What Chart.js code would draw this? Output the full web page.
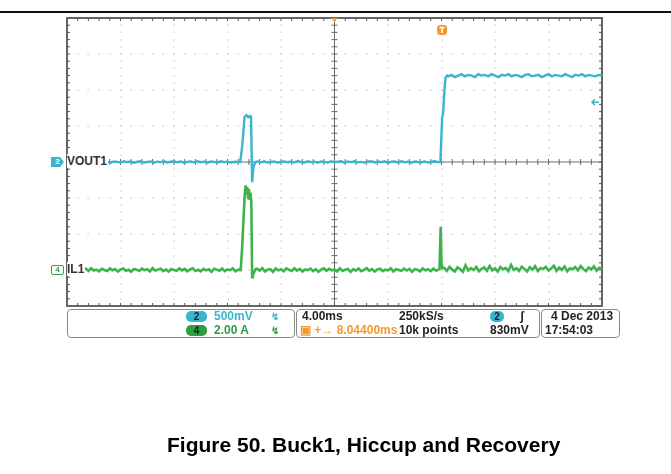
<!DOCTYPE html>
<html>
<head>
<meta charset="utf-8">
<script src="https://cdn.jsdelivr.net/npm/chart.js@4.4.0/dist/chart.umd.min.js"></script>
<style>
  body { margin: 0; background: #fff; }
  #wrap { position: relative; width: 671px; height: 474px; overflow: hidden; font-family: "Liberation Sans", Arial, sans-serif; }
  #scope { position: absolute; left: 0; top: 0; }
  .rule { position: absolute; left: 0; top: 11px; width: 671px; height: 2px; background: #111; }
  .lbl { position: absolute; font: bold 12px "Liberation Sans", Arial, sans-serif; color: #333; background: #fff; line-height: 14px; padding-right: 1px; }
  .chmark { position: absolute; width: 13px; height: 10px; font: bold 8px "Liberation Sans", Arial, sans-serif; line-height: 10px; text-align: center; }
  .box { position: absolute; top: 309px; height: 27px; border: 1.5px solid #8a8a8a; border-radius: 4px; }
  .t { position: absolute; font: bold 12px "Liberation Sans", Arial, sans-serif; color: #222; white-space: pre; line-height: 13px; }
  .pill { position: absolute; width: 21px; height: 11px; border-radius: 5px; font: bold 10px "Liberation Sans", Arial, sans-serif; line-height: 11px; text-align: center; color: #123; }
  .caption { position: absolute; left: 167px; top: 433px; font: bold 21px "Liberation Sans", Arial, sans-serif; line-height: 24px; color: #000; white-space: nowrap; }
</style>
</head>
<body>
<div id="wrap">
  <div class="rule"></div>
  <canvas id="scope" width="671" height="474"></canvas>

  <!-- channel ground markers -->
  <div class="chmark" style="left:51px;top:157px;background:#3ab5cf;color:#fff;clip-path:polygon(0 0,70% 0,100% 50%,70% 100%,0 100%);">2</div>
  <div class="lbl" style="left:67px;top:154px;">VOUT1</div>
  <div class="chmark" style="left:51px;top:265px;background:#fff;color:#2f9e3e;border:1px solid #2f9e3e;width:11px;height:8px;line-height:8px;border-radius:2px;">4</div>
  <div class="lbl" style="left:67px;top:262px;">IL1</div>

  <!-- readout panel -->
  <div class="box" style="left:67px;width:226px;"></div>
  <div class="box" style="left:296px;width:242px;"></div>
  <div class="box" style="left:541px;width:77px;"></div>

  <div class="pill" style="left:186px;top:311px;background:#3ab5cf;">2</div>
  <div class="t" style="left:214px;top:310px;color:#3ab5cf;">500mV</div>
  <div class="t" style="left:271px;top:310px;color:#3ab5cf;font-size:10px;">↯</div>
  <div class="pill" style="left:186px;top:325px;background:#2e9e43;">4</div>
  <div class="t" style="left:214px;top:324px;color:#2e9e43;">2.00 A</div>
  <div class="t" style="left:271px;top:324px;color:#2e9e43;font-size:10px;">↯</div>

  <div class="t" style="left:302px;top:310px;">4.00ms</div>
  <div class="t" style="left:399px;top:310px;">250kS/s</div>
  <div class="pill" style="left:490px;top:311px;background:#3ab5cf;width:14px;">2</div>
  <div class="t" style="left:520px;top:310px;">ʃ</div>
  <div class="t" style="left:300px;top:324px;color:#f29a2e;">▣ +→ 8.04400ms</div>
  <div class="t" style="left:399px;top:324px;">10k points</div>
  <div class="t" style="left:490px;top:324px;">830mV</div>

  <div class="t" style="left:551px;top:310px;">4 Dec 2013</div>
  <div class="t" style="left:545px;top:324px;">17:54:03</div>

  <div class="caption">Figure 50. Buck1, Hiccup and Recovery</div>
</div>

<script>
// ------------------------------
// Scope settings
// ------------------------------
const msPerDiv = 4;          // 4.00ms / div, 10 divisions
const voltsPerDiv = 0.5;     // CH2 500mV / div
const ampsPerDiv = 2;        // CH4 2.00 A / div
const triggerTime = 20 + 8.044;   // ms from left edge (delay 8.044ms from centre)
const triggerLevel = 0.83;        // V, CH2 rising edge

// ------------------------------
// VOUT1 (CH2), volts
// ------------------------------
// quiet stretches, one value every 0.25 ms
const voutStep = 0.25;
const voutNoise1Start = 0;
const voutNoise1 = [0.004,-0.008,0.01,0.0,-0.006,0.012,-0.003,0.007,-0.01,0.005,
    0.009,-0.005,0.002,-0.011,0.008,0.001,-0.007,0.011,-0.002,0.006,
    -0.009,0.003,0.01,-0.006,0.0,0.008,-0.011,0.005,-0.002,0.009,
    -0.007,0.003,0.011,-0.004,0.006,-0.009,0.002,0.008,-0.005,0.01,
    -0.003,0.004,-0.01,0.007,0.001,-0.006,0.009,-0.002,0.005,-0.008,
    0.003,0.0];
const voutNoise2Start = 14.25;
const voutNoise2 = [0.007,-0.005,0.01,-0.008,0.002,0.008,-0.011,0.004,0.009,-0.003,
    0.006,-0.008,0.012,0.0,-0.006,0.009,-0.002,0.005,-0.01,0.008,
    0.001,-0.007,0.011,-0.004,0.003,0.009,-0.009,0.006,-0.001,0.01,
    -0.005,0.002,-0.008,0.004,0.011,-0.006,0.007,-0.002,0.009,-0.01,
    0.003,0.006,-0.007,0.01,-0.003,0.005,-0.009,0.008,0.0,-0.004,
    0.007,-0.008,0.004,0.01,-0.002];
const voutNoise3Start = 28.5;
const voutNoise3 = [1.19,1.21,1.18,1.2,1.22,1.19,1.21,1.2,1.18,1.22,
    1.2,1.21,1.19,1.22,1.2,1.18,1.21,1.2,1.22,1.19,
    1.21,1.2,1.18,1.21,1.22,1.19,1.2,1.21,1.18,1.2,
    1.22,1.19,1.21,1.2,1.19,1.22,1.2,1.18,1.21,1.2,
    1.22,1.19,1.21,1.2,1.19,1.21];
// edges: hiccup pulse and recovery
const voutEdgeTimes = [12.95, 13.1, 13.2, 13.28, 13.42, 13.55, 13.68, 13.76, 13.84, 13.95, 14.1, 27.92, 27.98, 28.05, 28.12, 28.2, 28.3, 28.42, 40];
const voutEdgeValues = [0.0, 0.22, 0.45, 0.63, 0.65, 0.62, 0.64, 0.63, -0.28, -0.06, 0.0, 0.0, 0.3, 0.62, 0.68, 0.95, 1.17, 1.2, 1.2];

// ------------------------------
// IL1 (CH4), amps
// ------------------------------
const ilStep = 0.2;
const ilNoise1Start = 0;
const ilNoise1 = [0.04,-0.06,0.09,-0.02,0.06,-0.09,0.01,0.08,-0.05,0.1,
    -0.03,0.02,-0.08,0.07,0.0,-0.06,0.09,-0.01,0.05,-0.09,
    0.03,0.08,-0.04,0.01,-0.1,0.06,0.02,-0.05,0.08,-0.01,
    0.04,-0.08,0.1,-0.03,0.02,0.07,-0.06,0.03,-0.09,0.05,
    0.0,-0.04,0.09,-0.02,0.06,-0.07,0.03,0.1,-0.05,0.01,
    -0.08,0.06,-0.02,0.04,-0.1,0.07,0.02,-0.04,0.08,-0.06,
    0.03,-0.01,0.09,-0.07,0.02];
const ilNoise2Start = 14.2;
const ilNoise2 = [0.07,-0.03,0.1,-0.08,0.02,0.05,-0.1,0.08,-0.02,0.04,
    -0.07,0.09,0.01,-0.05,0.1,-0.03,0.06,-0.09,0.03,-0.01,
    0.08,-0.06,0.05,-0.1,0.02,0.09,-0.04,0.07,-0.02,0.03,
    -0.08,0.09,-0.05,0.02,0.06,-0.1,0.04,-0.03,0.08,-0.07,
    0.01,0.1,-0.04,0.05,-0.09,0.03,0.07,-0.06,0.02,-0.02,
    0.09,-0.08,0.04,0.0,-0.05,0.08,-0.03,0.06,-0.1,0.05,
    0.01,-0.07,0.09,-0.02,0.04,-0.06,0.08,-0.04,0.03];
const ilNoise3Start = 28.2;
const ilNoise3 = [0.12,-0.05,0.18,0.02,-0.08,0.15,0.04,-0.1,0.26,-0.03,
    0.1,0.0,0.17,-0.07,0.07,0.14,-0.04,0.22,-0.02,0.09,
    -0.09,0.16,0.03,0.12,-0.06,0.28,0.01,0.1,-0.05,0.18,
    0.06,-0.08,0.15,0.02,0.21,-0.06,0.11,0.05,0.17,-0.03,
    0.08,0.24,-0.05,0.13,0.01,0.19,-0.07,0.1,0.04,0.16,
    -0.02,0.22,0.06,-0.06,0.14,0.03,0.2,-0.04,0.12,0.07];
const ilEdgeTimes = [12.99, 13.1, 13.22, 13.3, 13.36, 13.42, 13.48, 13.54, 13.6, 13.66, 13.72, 13.78, 13.84, 13.9, 14.0, 14.1, 27.85, 27.94, 28.0, 28.06, 40];
const ilEdgeValues = [0.0, 1.3, 3.2, 4.3, 4.7, 4.2, 4.6, 4.0, 4.5, 3.9, 4.3, 3.8, -0.4, -0.3, -0.1, 0.05, 0.05, 2.4, 0.4, 0.1, 0.05];


// ------------------------------
// helpers
// ------------------------------
function segment(start, step, values) {
    return values.map((v, i) => ({ x: +(start + i * step).toFixed(3), y: v }));
}
function edges(times, values) {
    return times.map((t, i) => ({ x: t, y: values[i] }));
}
const byTime = (a, b) => a.x - b.x;

const voutPoints = [
    ...segment(voutNoise1Start, voutStep, voutNoise1),
    ...segment(voutNoise2Start, voutStep, voutNoise2),
    ...segment(voutNoise3Start, voutStep, voutNoise3),
    ...edges(voutEdgeTimes, voutEdgeValues)
].sort(byTime);

const ilPoints = [
    ...segment(ilNoise1Start, ilStep, ilNoise1),
    ...segment(ilNoise2Start, ilStep, ilNoise2),
    ...segment(ilNoise3Start, ilStep, ilNoise3),
    ...edges(ilEdgeTimes, ilEdgeValues)
].sort(byTime);


// ------------------------------
// graticule + markers
// ------------------------------
const scopeGrid = {
    id: "scopeGrid",
    beforeDatasetsDraw(chart) {
        const { ctx, scales } = chart;
        const x = scales.x, y = scales.yV;
        const xDivs = 10, yDivs = 8, sub = 5;
        const L = x.getPixelForValue(0), R = x.getPixelForValue(xDivs * msPerDiv);
        const T = y.getPixelForValue(yDivs / 2 * voltsPerDiv), B = y.getPixelForValue(-yDivs / 2 * voltsPerDiv);
        const xAt = i => x.getPixelForValue(i * msPerDiv / sub);
        const yAt = j => y.getPixelForValue(yDivs / 2 * voltsPerDiv - j * voltsPerDiv / sub);
        const cx = x.getPixelForValue(xDivs / 2 * msPerDiv), cy = y.getPixelForValue(0);

        ctx.save();
        // dotted division lines
        ctx.fillStyle = "#bdbdbd";
        for (let i = 1; i < xDivs; i++) {
            if (i === xDivs / 2) continue;
            const px = Math.round(xAt(i * sub));
            for (let j = 1; j < yDivs * sub; j++) ctx.fillRect(px - 0.5, Math.round(yAt(j)) - 0.5, 1.2, 1.2);
        }
        for (let j = 1; j < yDivs; j++) {
            if (j === yDivs / 2) continue;
            const py = Math.round(yAt(j * sub));
            for (let i = 1; i < xDivs * sub; i++) ctx.fillRect(Math.round(xAt(i)) - 0.5, py - 0.5, 1.2, 1.2);
        }

        // centre cross
        ctx.strokeStyle = "#6a6a6a";
        ctx.lineWidth = 1;
        ctx.beginPath();
        ctx.moveTo(L, cy); ctx.lineTo(R, cy);
        ctx.moveTo(cx, T); ctx.lineTo(cx, B);
        for (let i = 1; i < xDivs * sub; i++) { const px = xAt(i); ctx.moveTo(px, cy - 3); ctx.lineTo(px, cy + 3); }
        for (let j = 1; j < yDivs * sub; j++) { const py = yAt(j); ctx.moveTo(cx - 3, py); ctx.lineTo(cx + 3, py); }
        ctx.stroke();

        // frame with inward ticks
        ctx.strokeStyle = "#555";
        ctx.lineWidth = 1.8;
        ctx.strokeRect(L, T, R - L, B - T);
        ctx.lineWidth = 1;
        ctx.beginPath();
        for (let i = 1; i < xDivs * sub; i++) {
            const px = xAt(i);
            ctx.moveTo(px, T); ctx.lineTo(px, T + 3);
            ctx.moveTo(px, B); ctx.lineTo(px, B - 3);
        }
        for (let j = 1; j < yDivs * sub; j++) {
            const py = yAt(j);
            ctx.moveTo(L, py); ctx.lineTo(L + 3, py);
            ctx.moveTo(R, py); ctx.lineTo(R - 3, py);
        }
        ctx.stroke();
        ctx.restore();
    },
    afterDatasetsDraw(chart) {
        const { ctx, scales } = chart;
        const x = scales.x, y = scales.yV;
        const top = y.getPixelForValue(2), right = x.getPixelForValue(40);
        ctx.save();
        // horizontal position marker (centre)
        const cx = x.getPixelForValue(20);
        ctx.fillStyle = "#f29a2e";
        ctx.beginPath();
        ctx.moveTo(cx - 3.5, top); ctx.lineTo(cx + 3.5, top); ctx.lineTo(cx, top + 4);
        ctx.closePath(); ctx.fill();
        // trigger time marker
        const tx = x.getPixelForValue(triggerTime);
        ctx.beginPath();
        ctx.roundRect(tx - 5, top + 7, 10, 10, 3);
        ctx.fill();
        ctx.strokeStyle = "#fff";
        ctx.lineWidth = 1.6;
        ctx.beginPath();
        ctx.moveTo(tx - 2.5, top + 9.5); ctx.lineTo(tx + 2.5, top + 9.5);
        ctx.moveTo(tx, top + 9.5); ctx.lineTo(tx, top + 15);
        ctx.stroke();
        // trigger level arrow
        const ty = y.getPixelForValue(triggerLevel);
        ctx.strokeStyle = "#3ab5cf";
        ctx.lineWidth = 1.5;
        ctx.beginPath();
        ctx.moveTo(right - 3, ty); ctx.lineTo(right - 10, ty);
        ctx.moveTo(right - 7, ty - 3); ctx.lineTo(right - 10, ty); ctx.lineTo(right - 7, ty + 3);
        ctx.stroke();
        ctx.restore();
    }
};


// ------------------------------
// Chart.js Code
// ------------------------------
const ctx = document.getElementById("scope");

new Chart(ctx, {
    type: "line",
    data: {
        datasets: [
            {
                label: "VOUT1",
                data: voutPoints,
                yAxisID: "yV",
                borderColor: "#3ab5cf",
                borderWidth: 2.4,
                pointRadius: 0,
                tension: 0
            },
            {
                label: "IL1",
                data: ilPoints,
                yAxisID: "yI",
                borderColor: "#3db34a",
                borderWidth: 2.6,
                pointRadius: 0,
                tension: 0
            }
        ]
    },
    options: {
        responsive: false,
        animation: false,
        devicePixelRatio: 1,
        layout: { padding: { left: 67, top: 18, right: 69, bottom: 168 } },
        plugins: {
            legend: { display: false },
            tooltip: { enabled: false }
        },
        scales: {
            x: { type: "linear", min: 0, max: 10 * msPerDiv, display: false },
            yV: { type: "linear", min: -4 * voltsPerDiv, max: 4 * voltsPerDiv, display: false },
            yI: { type: "linear", min: -1 * ampsPerDiv, max: 7 * ampsPerDiv, display: false }
        }
    },
    plugins: [scopeGrid]
});
</script>
</body>
</html>
